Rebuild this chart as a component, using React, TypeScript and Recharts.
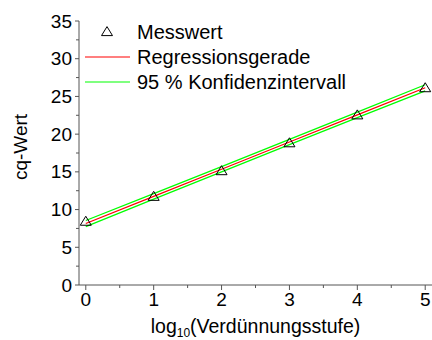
import React from "react";
import { ComposedChart, Line, Scatter, XAxis, YAxis, Label } from "recharts";

const xValues = [0, 1, 2, 3, 4, 5];
const measured = [8.4, 11.7, 15.1, 18.8, 22.5, 26.1];
const fitLine = [8.15, 11.75, 15.35, 18.95, 22.55, 26.15];
const lowerBound = [7.75, 11.38, 15.0, 18.6, 22.18, 25.75];
const upperBound = [8.55, 12.12, 15.7, 19.3, 22.92, 26.55];

const xTicks = [0, 0.5, 1, 1.5, 2, 2.5, 3, 3.5, 4, 4.5, 5];
const yTicks = [0, 2.5, 5, 7.5, 10, 12.5, 15, 17.5, 20, 22.5, 25, 27.5, 30, 32.5, 35];

const legendItems = [
  { label: "Messwert", kind: "triangle", color: "#000000" },
  { label: "Regressionsgerade", kind: "line", color: "#ff0000" },
  { label: "95 % Konfidenzintervall", kind: "line", color: "#00ff00" },
];

const rows = xValues.map((x, i) => ({
  x,
  measured: measured[i],
  fit: fitLine[i],
  lower: lowerBound[i],
  upper: upperBound[i],
}));

const FONT = "'Liberation Sans', Arial, sans-serif";
const TICK_SIZE = 5;
const TICK_MARGIN = 3;

const Triangle = (props: any) => {
  const { cx, cy } = props;
  if (cx == null || cy == null) return null;
  const hw = 5.5;
  const h = 9;
  return (
    <path
      d={`M${cx},${cy - h * 0.6} L${cx + hw},${cy + h * 0.4} L${cx - hw},${cy + h * 0.4} Z`}
      fill="none"
      stroke="#000"
      strokeWidth={1}
    />
  );
};

const YTick = (props: any) => {
  const { x, y, payload } = props;
  const axisX = x + TICK_SIZE + TICK_MARGIN;
  const v = payload.value;
  const major = v % 5 === 0;
  return (
    <g>
      <line x1={axisX - (major ? 4 : 3)} x2={axisX} y1={y} y2={y} stroke="#555" strokeWidth={1} />
      {major && (
        <text x={axisX - 7} y={y} dy={6.5} textAnchor="end" fontSize={19} fontFamily={FONT} fill="#000">
          {v}
        </text>
      )}
    </g>
  );
};

const XTick = (props: any) => {
  const { x, y, payload } = props;
  const axisY = y - TICK_SIZE - TICK_MARGIN;
  const v = payload.value;
  const major = Number.isInteger(v);
  return (
    <g>
      <line x1={x} x2={x} y1={axisY} y2={axisY + (major ? 5 : 3)} stroke="#555" strokeWidth={1} />
      {major && (
        <text x={x} y={axisY + 7} dy={14} textAnchor="middle" fontSize={19} fontFamily={FONT} fill="#000">
          {v}
        </text>
      )}
    </g>
  );
};

const XLabel = (props: any) => {
  const vb = props.viewBox || {};
  const cx = vb.x + vb.width / 2;
  return (
    <text x={cx} y={333} textAnchor="middle" fontSize={19.5} fontFamily={FONT} fill="#000">
      <tspan>log</tspan>
      <tspan fontSize={12} dy={4}>10</tspan>
      <tspan dy={-4}>(Verdünnungsstufe)</tspan>
    </text>
  );
};

const YLabel = () => {
  const cy = 147;
  return (
    <text
      x={27}
      y={cy}
      transform={`rotate(-90, 27, ${cy})`}
      textAnchor="middle"
      fontSize={19}
      fontFamily={FONT}
      fill="#000"
    >
      cq-Wert
    </text>
  );
};

const LegendBox = () => (
  <svg
    width={432}
    height={100}
    style={{ position: "absolute", left: 0, top: 0, pointerEvents: "none" }}
  >
    {legendItems.map((item, i) => {
      const cy = 32 + i * 25;
      return (
        <g key={item.label}>
          {item.kind === "triangle" ? (
            <Triangle cx={107} cy={cy} />
          ) : (
            <line x1={85} x2={130} y1={cy} y2={cy} stroke={item.color} strokeWidth={1.2} />
          )}
          <text x={137} y={cy} dy={7} fontSize={20} fontFamily={FONT} fill="#000">
            {item.label}
          </text>
        </g>
      );
    })}
  </svg>
);

export default function App() {
  return (
    <div style={{ position: "absolute", left: 0, top: 0, width: 432, height: 340, background: "#fff" }}>
      <ComposedChart
        width={432}
        height={340}
        data={rows}
        margin={{ top: 21, right: 0, bottom: 0, left: 0 }}
      >
        <XAxis
          dataKey="x"
          type="number"
          domain={[-0.1, 5.1]}
          ticks={xTicks}
          interval={0}
          allowDataOverflow
          height={55}
          tickSize={TICK_SIZE}
          tickMargin={TICK_MARGIN}
          tickLine={false}
          tick={<XTick />}
          axisLine={{ stroke: "#555", strokeWidth: 1 }}
        >
          <Label content={<XLabel />} />
        </XAxis>
        <YAxis
          type="number"
          domain={[0, 35]}
          ticks={yTicks}
          interval={0}
          width={79}
          tickSize={TICK_SIZE}
          tickMargin={TICK_MARGIN}
          tickLine={false}
          tick={<YTick />}
          axisLine={{ stroke: "#555", strokeWidth: 1 }}
        >
          <Label content={<YLabel />} />
        </YAxis>
        <Line dataKey="lower" stroke="#00ff00" strokeWidth={1.3} dot={false} isAnimationActive={false} />
        <Line dataKey="upper" stroke="#00ff00" strokeWidth={1.3} dot={false} isAnimationActive={false} />
        <Line dataKey="fit" stroke="#ff0000" strokeWidth={1.2} dot={false} isAnimationActive={false} />
        <Scatter dataKey="measured" shape={<Triangle />} isAnimationActive={false} />
      </ComposedChart>
      <LegendBox />
    </div>
  );
}
